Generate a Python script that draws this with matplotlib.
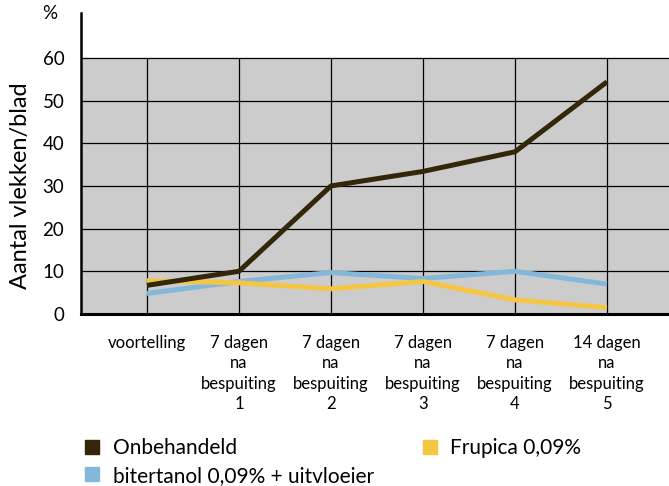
import numpy as np
import matplotlib
matplotlib.use("Agg")
import matplotlib.pyplot as plt
from matplotlib.lines import Line2D

plt.rcParams['font.family'] = ['Lato', 'DejaVu Sans']

# categories (x-as)
categorieen = ["voortelling",
               "7 dagen\nna\nbespuiting\n1",
               "7 dagen\nna\nbespuiting\n2",
               "7 dagen\nna\nbespuiting\n3",
               "7 dagen\nna\nbespuiting\n4",
               "14 dagen\nna\nbespuiting\n5"]

# aantal vlekken per blad (%)
onbehandeld = [6.7, 10.0, 30.0, 33.4, 38.0, 54.4]
bitertanol = [4.8, 7.6, 9.7, 8.3, 10.0, 7.0]
frupica = [7.8, 7.3, 5.9, 7.6, 3.3, 1.5]

y_ticks = [0, 10, 20, 30, 40, 50, 60]

KLEUR_ONB = "#33270a"
KLEUR_BIT = "#84b8db"
KLEUR_FRU = "#f5c644"

fig = plt.figure(figsize=(6.69, 4.86), dpi=100)
ax = fig.add_axes([0.121, 0.354, 0.879, 0.619])

x = np.arange(len(categorieen))

# grijze achtergrond 0-60 met rasterlijnen
ax.axhspan(0, 60, color="#cccccc", zorder=0)
ax.hlines(y_ticks[1:], -0.72, 5.68, color="black", lw=0.9, zorder=1)
ax.vlines(x, 0, 60, color="black", lw=0.9, zorder=1)

ax.plot(x, bitertanol, color=KLEUR_BIT, lw=3.6, zorder=3, solid_capstyle='butt')
ax.plot(x, frupica, color=KLEUR_FRU, lw=3.6, zorder=4, solid_capstyle='butt')
ax.plot(x, onbehandeld, color=KLEUR_ONB, lw=3.6, zorder=5, solid_capstyle='butt')

ax.set_xlim(-0.717, 5.674)
ax.set_ylim(0, 70.5)
ax.set_yticks(y_ticks)
ax.set_yticklabels([str(v) for v in y_ticks], fontsize=13.5)
ax.set_xticks(x)
ax.set_xticklabels(categorieen, fontsize=12, linespacing=1.35)
ax.tick_params(axis='both', length=0)
ax.tick_params(axis='x', pad=15)
ax.tick_params(axis='y', pad=12)

for s in ["top", "right"]:
    ax.spines[s].set_visible(False)
ax.spines["left"].set_linewidth(1.8)
ax.spines["bottom"].set_linewidth(2.2)

ax.set_ylabel("Aantal vlekken/blad", fontsize=17)
ax.yaxis.set_label_coords(-0.085, 30 / 70.5)
ax.text(-0.04, 1.0, "%", transform=ax.transAxes, fontsize=13.5,
        ha="right", va="center")

handles = [Line2D([], [], marker='s', ls='none', ms=9.5, color=KLEUR_ONB),
           Line2D([], [], marker='s', ls='none', ms=9.5, color=KLEUR_BIT),
           Line2D([], [], marker='s', ls='none', ms=9.5, color=KLEUR_FRU)]
labels = ["Onbehandeld", "bitertanol 0,09% + uitvloeier", "Frupica 0,09%"]
fig.legend(handles, labels, ncol=2, loc="upper left",
           bbox_to_anchor=(0.107, 0.115), frameon=False, fontsize=15,
           handletextpad=0.4, columnspacing=2.05, labelspacing=0.35,
           handlelength=1.2, borderaxespad=0)

fig.savefig("out.png", dpi=100)
